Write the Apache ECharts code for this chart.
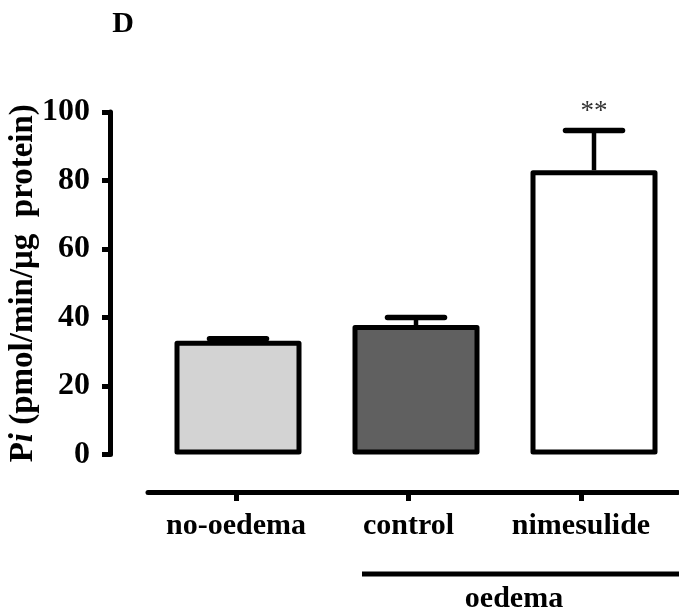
<!DOCTYPE html>
<html>
<head>
<meta charset="utf-8">
<title>Pi release</title>
<script src="https://cdn.jsdelivr.net/npm/echarts@6/dist/echarts.min.js"></script>
<style>
  html, body { margin: 0; padding: 0; background: #fff; }
  #chart { width: 679px; height: 614px; }
</style>
</head>
<body>
<div id="chart"></div>
<script>
// Groups, means, SEM and significance marks
const categories = ['no-oedema', 'control', 'nimesulide'];
const meanValues = [33.2, 37.8, 83.0];
const semValues = [0.6, 2.2, 11.6];
const significance = ['', '', '**'];
const barColors = ['#d3d3d3', '#606060', '#ffffff'];
const yMin = 0, yMax = 100, yStep = 20;
const groupIndex = [0, 1, 2];

const serif = "'Liberation Serif', 'Times New Roman', Times, serif";

const chart = echarts.init(document.getElementById('chart'), null, { renderer: 'canvas' });

const barData = groupIndex.map(i => ({
  value: [i, meanValues[i]],
  itemStyle: { color: barColors[i] }
}));
const errorData = groupIndex.map(i => [i, meanValues[i], meanValues[i] + semValues[i]]);

// plot area for the bars: group index 0..2 spread 178 px apart, first group 128 px from the value axis
const plotLeft = 110, plotWidth = 560, groupGap = 178, firstOffset = 128;
const groupMin = -firstOffset / groupGap;
const groupMax = groupMin + plotWidth / groupGap;

// lower category axis: ticks 172.5 px apart, first one 88 px from its left end
const catLeft = 148, catWidth = 530, catGap = 172.5, catFirst = 88;
const catMin = -catFirst / catGap;
const catMax = catMin + catWidth / catGap;

const option = {
  animation: false,
  backgroundColor: '#ffffff',
  grid: [
    { left: plotLeft, top: 112, width: plotWidth, height: 342.5, outerBoundsMode: 'none', containLabel: false },
    { left: catLeft, top: 400, width: catWidth, height: 92, outerBoundsMode: 'none', containLabel: false }
  ],
  xAxis: [
    {
      gridIndex: 0,
      type: 'value',
      min: groupMin,
      max: groupMax,
      show: false
    },
    {
      gridIndex: 1,
      type: 'value',
      min: catMin,
      max: catMax,
      axisLine: { show: true, onZero: false, lineStyle: { color: '#000', width: 5 } },
      axisTick: {
        show: true, length: 9, customValues: groupIndex,
        lineStyle: { color: '#000', width: 5 }
      },
      axisLabel: {
        customValues: groupIndex,
        formatter: v => categories[Math.round(v)],
        color: '#000', fontFamily: serif, fontWeight: 'bold', fontSize: 30, margin: 19
      },
      splitLine: { show: false }
    }
  ],
  yAxis: [
    {
      gridIndex: 0,
      type: 'value',
      min: yMin,
      max: yMax,
      interval: yStep,
      axisLine: { show: true, onZero: false, lineStyle: { color: '#000', width: 5 } },
      axisTick: { show: true, length: 8, lineStyle: { color: '#000', width: 5 } },
      axisLabel: {
        color: '#000', fontFamily: serif, fontWeight: 'bold', fontSize: 32, margin: 20
      },
      splitLine: { show: false },
      name: '{a|P}{b|i}{a| (pmol/min/μg  protein)}',
      nameLocation: 'middle',
      nameRotate: 90,
      nameGap: 70,
      nameMoveOverlap: false,
      nameTextStyle: {
        rich: {
          a: { fontFamily: serif, fontWeight: 'bold', fontSize: 33, color: '#000' },
          b: { fontFamily: serif, fontWeight: 'bold', fontStyle: 'italic', fontSize: 33, color: '#000' }
        }
      }
    },
    { gridIndex: 1, type: 'value', show: false }
  ],
  series: [
    {
      type: 'bar',
      xAxisIndex: 0,
      yAxisIndex: 0,
      barWidth: 127,
      data: barData,
      itemStyle: { borderColor: '#000', borderWidth: 5, borderJoin: 'round' },
      z: 2
    },
    {
      type: 'custom',
      xAxisIndex: 0,
      yAxisIndex: 0,
      data: errorData,
      encode: { x: 0, y: 2 },
      z: 3,
      renderItem: function (params, api) {
        const i = api.value(0);
        const base = api.coord([i, api.value(1)]);
        const top = api.coord([i, api.value(2)]);
        const half = 28.5;
        return {
          type: 'group',
          children: [
            {
              type: 'line',
              shape: { x1: base[0], y1: base[1], x2: top[0], y2: top[1] },
              style: { stroke: '#000', lineWidth: 4.5 }
            },
            {
              type: 'line',
              shape: { x1: top[0] - half, y1: top[1], x2: top[0] + half, y2: top[1] },
              style: { stroke: '#000', lineWidth: 5.5, lineCap: 'round' }
            },
            {
              type: 'text',
              style: {
                text: significance[params.dataIndex],
                x: top[0], y: top[1] - 19,
                align: 'center', verticalAlign: 'middle',
                fontFamily: serif, fontSize: 27, fill: '#333'
              }
            }
          ]
        };
      }
    }
  ],
  graphic: [
    {
      type: 'text',
      style: {
        text: 'D', x: 123, y: 24, align: 'center', verticalAlign: 'middle',
        fontFamily: serif, fontWeight: 'bold', fontSize: 30, fill: '#000'
      }
    },
    {
      type: 'line',
      shape: { x1: 362, y1: 574, x2: 679, y2: 574 },
      style: { stroke: '#000', lineWidth: 5 }
    },
    {
      type: 'text',
      style: {
        text: 'oedema', x: 514, y: 599, align: 'center', verticalAlign: 'middle',
        fontFamily: serif, fontWeight: 'bold', fontSize: 30, fill: '#000'
      }
    }
  ]
};

chart.setOption(option);
</script>
</body>
</html>
